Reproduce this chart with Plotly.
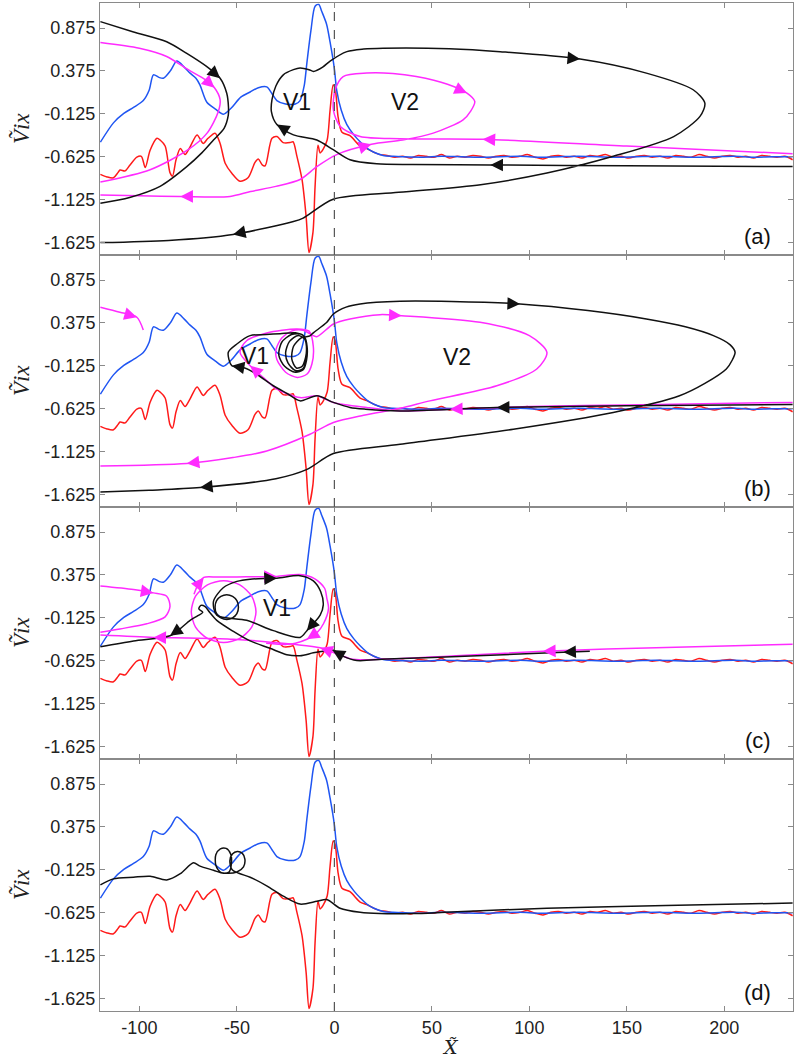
import math
import plotly.graph_objects as go
from plotly.subplots import make_subplots

# ---------------- axes / labels ----------------
x_ticks = [-100, -50, 0, 50, 100, 150, 200]
x_tick_text = ["-100", "-50", "0", "50", "100", "150", "200"]
y_ticks = [0.875, 0.375, -0.125, -0.625, -1.125, -1.625]
y_tick_text = ["0.875", "0.375", "-0.125", "-0.625", "-1.125", "-1.625"]
panel_tags = ["(a)", "(b)", "(c)", "(d)"]
X_RANGE = [-120.2, 235.2]
Y_RANGE = [-1.77, 1.167]

# ---------------- shared profiles (red, blue) ----------------
red_x = [-120, -116.6, -113.3, -111, -109.9, -107.3, -104.8, -101.3, -99, -97, -94.5, -91, -89.4,
         -86.8, -84.3, -83, -81.2, -79, -76.6, -74, -70.4, -67.3, -64.8, -61.2, -58.6, -56, -52.5,
         -48.4, -44.3, -40.7, -39, -37, -35.5, -32, -29.4, -26.3, -22.7, -21.2, -19.2, -16.6, -14.5,
         -13, -11, -9.9, -8.4, -7.3, -5.8, -3.7, -2.2, -0.6, 0.4, 1.9, 3.9, 8, 13.2, 16.6, 20.9, 23.4]
red_y = [-0.83, -0.86, -0.87, -0.81, -0.78, -0.79, -0.72, -0.63, -0.62, -0.75, -0.55, -0.41, -0.43,
         -0.5, -0.81, -0.85, -0.66, -0.53, -0.6, -0.51, -0.37, -0.47, -0.41, -0.35, -0.47, -0.7, -0.82,
         -0.91, -0.87, -0.69, -0.65, -0.72, -0.73, -0.41, -0.39, -0.46, -0.46, -0.45, -0.62, -0.89, -1.32,
         -1.74, -1.51, -0.97, -0.49, -0.58, -0.54, -0.43, -0.08, 0.21, 0.17, -0.16, -0.34, -0.38, -0.5,
         -0.53, -0.58, -0.6]
red_flat_x = [27, 31, 35, 39, 43, 47, 51, 55, 59, 63, 67, 71, 75, 79, 83, 87, 91, 95, 99, 103, 107,
              111, 115, 119, 123, 127, 131, 135, 139, 143, 147, 151, 155, 159, 163, 167, 171, 175, 179,
              183, 187, 191, 195, 199, 203, 207, 211, 215, 219, 223, 227, 231, 235]
red_flat_y = [-0.61, -0.63, -0.62, -0.64, -0.61, -0.62, -0.63, -0.60, -0.64, -0.62,
              -0.63, -0.61, -0.62, -0.64, -0.62, -0.61, -0.63, -0.62, -0.60, -0.63,
              -0.65, -0.62, -0.61, -0.63, -0.62, -0.64, -0.61, -0.62, -0.60, -0.63,
              -0.62, -0.64, -0.62, -0.61, -0.63, -0.62, -0.64, -0.61, -0.62, -0.63,
              -0.60, -0.62, -0.64, -0.62, -0.61, -0.63, -0.62, -0.64, -0.61, -0.62,
              -0.63, -0.62, -0.66]
blue_x = [-120, -113.3, -108, -103, -98, -95, -92.8, -90, -87.7, -84, -80.8, -77, -74, -71, -68.9,
          -65.4, -61, -56.9, -53, -48, -43.2, -39, -34.7, -32, -29.5, -25, -20, -17.6, -15.5, -14.1,
          -12, -9.9, -8, -6.5, -4, -2.2, 0, 1.2, 3.5, 6.4, 10, 13.2, 17, 20, 25, 30]
blue_y = [-0.455, -0.23, -0.12, -0.05, 0.03, 0.15, 0.33, 0.30, 0.29, 0.38, 0.49, 0.42, 0.35, 0.29, 0.21,
          0.01, -0.07, -0.13, -0.06, 0.07, 0.13, 0.18, 0.19, 0.11, 0.03, -0.01, -0.01, 0.03, 0.2, 0.47,
          0.85, 1.13, 1.15, 1.07, 0.92, 0.71, 0.4, 0.15, -0.08, -0.25, -0.37, -0.45, -0.53, -0.57, -0.61, -0.62]
blue_flat_x = [35, 45, 55, 65, 75, 85, 95, 105, 115, 125, 135, 145, 155, 165, 175, 185, 195, 205, 215, 225, 235]
blue_flat_y = [-0.625, -0.63, -0.62, -0.625, -0.63, -0.625, -0.62, -0.63, -0.625, -0.62, -0.625,
               -0.63, -0.625, -0.62, -0.625, -0.63, -0.625, -0.62, -0.63, -0.625, -0.625]

# ---------------- trajectories: (x, y[, arrow]) ; '>' arrow along travel, '<' against ----------------
# panel (a)
a_black_1 = [(-120, 0.95), (-103, 0.83), (-86, 0.716), (-75.7, 0.58), (-65.4, 0.425), (-58.6, 0.29, '>'),
             (-55.2, 0.115), (-54.3, -0.05), (-54.4, -0.14), (-56.5, -0.29), (-62, -0.43), (-68, -0.58),
             (-75.7, -0.74), (-89.4, -0.97), (-105, -1.1), (-120, -1.168)]
a_black_2 = [(235, -0.74), (150, -0.73), (80, -0.72, '>'), (40, -0.715), (21.7, -0.707), (8, -0.66),
             (-0.6, -0.543), (-9, -0.43), (-21, -0.37), (-29.5, -0.25, '>'), (-32.3, -0.1), (-32, 0.04),
             (-30, 0.2), (-26.2, 0.33), (-21, 0.39), (-17.6, 0.41), (-13, 0.39), (-10.7, 0.37), (-6, 0.42),
             (-2.2, 0.49), (6.4, 0.6), (15, 0.63), (25, 0.64), (59, 0.634), (85, 0.6), (126, 0.514, '>'),
             (160, 0.35), (184, 0.156), (190, 0), (187.5, -0.155), (174, -0.39), (143, -0.62), (109, -0.815),
             (75, -0.95), (33, -1.04), (-0.6, -1.12), (-16, -1.34), (-21, -1.38), (-52, -1.53, '>'),
             (-85, -1.6), (-120, -1.625)]
a_magenta_1 = [(-120, 0.707), (-100, 0.64), (-86, 0.544), (-75, 0.39), (-66, 0.27), (-61.5, 0.18, '>'),
               (-58.6, 0.04), (-59.5, -0.097), (-65.3, -0.35), (-75, -0.543), (-94.5, -0.776), (-120, -0.92)]
a_magenta_2 = [(235, -0.59), (150, -0.5), (76, -0.42, '>'), (33.7, -0.415), (13.2, -0.39), (2.9, -0.27),
               (-0.5, -0.08), (0.4, 0.156), (4.5, 0.31), (16.6, 0.35), (30, 0.345), (42, 0.31), (58, 0.22),
               (68, 0.117, '>'), (72, 0.02), (70, -0.09), (66, -0.194), (50.7, -0.35), (35, -0.43),
               (19, -0.48, '<'), (1.2, -0.6), (-9, -0.74), (-17.6, -0.89), (-30, -0.97), (-43, -1.03),
               (-53.5, -1.087), (-79, -1.087, '>'), (-100, -1.08), (-120, -1.07)]
a_labels = [("V1", -19.3, 0.017), ("V2", 36.3, 0.017)]

# panel (b)
b_black_1 = [(235, -0.575), (150, -0.59), (83.3, -0.61, '>'), (33.7, -0.65), (16, -0.63), (8, -0.61),
             (-0.5, -0.551), (-9, -0.474), (-17.6, -0.533), (-24, -0.45), (-31.3, -0.357), (-40, -0.22),
             (-46, -0.15), (-52.6, -0.124, '>'), (-54.4, 0.033), (-50, 0.13), (-43.2, 0.227), (-35, 0.24),
             (-27.8, 0.25), (-20, 0.26), (-15.5, 0.22), (-14, 0.1), (-14.3, -0.06), (-16, -0.17), (-20, -0.2),
             (-25.5, -0.13), (-28.5, 0.0), (-27, 0.15), (-22, 0.24), (-16.5, 0.24), (-14.3, 0.12),
             (-14.4, -0.04), (-16.2, -0.16), (-20, -0.18), (-23.8, -0.09), (-25, 0.03), (-23, 0.16),
             (-18.5, 0.23), (-15, 0.18), (-14.4, 0.02), (-16.5, -0.13), (-19.5, -0.15), (-21.8, -0.05),
             (-21, 0.1), (-17, 0.2), (-12.5, 0.225), (-10.8, 0.26), (-4, 0.38), (-0.5, 0.48), (6, 0.56),
             (13.2, 0.597), (33.7, 0.628), (60, 0.625), (95.2, 0.597, '>'), (130, 0.52), (160, 0.422),
             (180, 0.33), (194.4, 0.227), (203, 0.12), (205.5, 0.033), (204, -0.06), (201, -0.162),
             (190, -0.33), (177, -0.474), (143, -0.668), (91.8, -0.863), (33.7, -1.039), (-0.5, -1.147),
             (-14, -1.331), (-30, -1.44), (-68.9, -1.544, '>'), (-95, -1.575), (-120, -1.596)]
b_magenta_1 = [(-120, 0.558), (-110, 0.5), (-101.3, 0.442, '>'), (-98, 0.293)]
b_magenta_2 = [(235, -0.551), (150, -0.58), (100, -0.6), (59.3, -0.63, '>'), (33.7, -0.65), (16.6, -0.61),
               (-0.6, -0.551), (-9, -0.474), (-17.6, -0.495), (-29.5, -0.396), (-36, -0.27),
               (-43.2, -0.124, '>'), (-48.4, 0.033), (-45, 0.168), (-34.7, 0.258), (-19.3, 0.305),
               (-13, 0.28), (-10.8, 0.1), (-11.5, -0.1), (-14, -0.22), (-19, -0.26), (-25, -0.2),
               (-29.5, -0.05), (-30, 0.06), (-27, 0.2), (-22, 0.28), (-16, 0.29), (-12, 0.24), (-9, 0.215),
               (-0.5, 0.363), (8, 0.422), (23.4, 0.472), (34.5, 0.46, '>'), (74.7, 0.383), (100, 0.227),
               (109, 0.033), (103.8, -0.162), (83.3, -0.357), (49, -0.533), (33.7, -0.62), (15, -0.7),
               (-0.5, -0.785), (-12.5, -0.922), (-34.7, -1.117), (-52, -1.194), (-75.7, -1.264, '>'),
               (-120, -1.292)]
b_labels = [("V1", -40.7, -0.007), ("V2", 62.8, -0.026)]

# panel (c)
c_black_1 = [(131, -0.514), (117.4, -0.526, '>'), (70, -0.57), (26.9, -0.605), (11.5, -0.622), (4.6, -0.574),
             (-1, -0.5, '>'), (-5, -0.51), (-10.8, -0.533), (-17.6, -0.566), (-24.4, -0.554), (-33, -0.48),
             (-43.2, -0.394), (-52, -0.28), (-60.3, -0.154), (-64, -0.06), (-66.3, 0.007), (-68.5, 0.02),
             (-69.5, -0.02), (-67.5, -0.06), (-70, -0.1), (-74, -0.154), (-79, -0.25), (-84.3, -0.334, '>'),
             (-103, -0.394), (-120, -0.461)]
c_black_2 = [(-17.6, -0.353), (-31.3, -0.274), (-45, -0.153), (-60.3, -0.094), (-62, 0.067), (-57, 0.226),
             (-50, 0.3), (-43.2, 0.326), (-29.5, 0.338, '>'), (-17.6, 0.367), (-10.8, 0.307), (-7, 0.18),
             (-5.7, 0.026), (-7.3, -0.094), (-14.1, -0.274, '>'), (-17.6, -0.353)]
c_black_3 = [(-49.2, 0.0), (-50, 0.075), (-52.2, 0.125), (-55.2, 0.145), (-58.2, 0.125), (-60.4, 0.075),
             (-61.2, 0.0), (-60.4, -0.075), (-58.2, -0.125), (-55.2, -0.145), (-52.2, -0.125), (-50, -0.075),
             (-49.2, 0.0)]
c_magenta_1 = [(-120, 0.247), (-103, 0.206), (-92.8, 0.166, '>'), (-86, 0.127), (-84.3, 0.007),
               (-86.8, -0.113), (-96.2, -0.194), (-110, -0.254), (-120, -0.293)]
c_magenta_2 = [(235, -0.434), (170, -0.47), (107, -0.514, '>'), (60, -0.57), (14.9, -0.614), (8, -0.6),
               (2, -0.55), (-7.3, -0.473, '>'), (-21, -0.434), (-51.8, -0.374), (-75, -0.36),
               (-92.8, -0.353, '>'), (-120, -0.326)]
c_magenta_3 = [(-40.2, -0.053), (-42.4, 0.127), (-48.5, 0.259), (-56.8, 0.307), (-65.1, 0.259),
               (-71.2, 0.127), (-73.4, -0.053), (-71.2, -0.233), (-65.1, -0.365), (-56.8, -0.413),
               (-48.5, -0.365), (-42.4, -0.233), (-40.2, -0.053)]
c_magenta_4 = [(-72, 0.15), (-70, 0.26), (-67, 0.346, '>'), (-60, 0.35), (-50, 0.352), (-40, 0.355),
               (-29.5, 0.358, '>'), (-17.6, 0.379), (-10, 0.33), (-5, 0.22), (-3.9, 0.106), (-3, -0.014),
               (-5.6, -0.194), (-9, -0.3), (-14.1, -0.374, '>'), (-20, -0.42), (-24.4, -0.434), (-35, -0.42)]
c_labels = [("V1", -29.5, -0.014)]

# panel (d)
d_black_1 = [(-120, -0.299), (-113.3, -0.23), (-103, -0.211), (-94.5, -0.2), (-86, -0.243), (-79, -0.17),
             (-72.3, -0.042), (-68.9, -0.082), (-62, -0.13), (-57, -0.165), (-54, -0.15), (-52.8, -0.05),
             (-53.2, 0.06), (-55.5, 0.125), (-58.5, 0.12), (-60.8, 0.05), (-60.8, -0.07), (-58.5, -0.15),
             (-55, -0.165), (-50, -0.15), (-46.6, -0.09), (-45.9, 0.0), (-47.3, 0.07), (-49.8, 0.09),
             (-52.3, 0.06), (-53.6, -0.02), (-52.5, -0.12), (-49, -0.165), (-43.2, -0.211), (-34.7, -0.311),
             (-26.2, -0.432), (-17.6, -0.524), (-9, -0.492), (-3.9, -0.47), (2.9, -0.572), (13.2, -0.62),
             (23.4, -0.635), (40, -0.635), (60, -0.615), (109, -0.573), (170, -0.54), (235, -0.512)]
d_labels = []

# ---------------- styling ----------------
RED = "#ff1a1a"
BLUE = "#1f55f2"
MAG = "#ff2bff"
BLK = "#111111"
FRAME = "#8a8a8a"
TICKFONT = dict(family="Liberation Sans, Arial, sans-serif", size=18, color="#222222")

panels = [
    ([(a_magenta_1, MAG), (a_magenta_2, MAG), (a_black_1, BLK), (a_black_2, BLK)], a_labels),
    ([(b_magenta_1, MAG), (b_magenta_2, MAG), (b_black_1, BLK)], b_labels),
    ([(c_magenta_1, MAG), (c_magenta_2, MAG), (c_magenta_3, MAG), (c_magenta_4, MAG),
      (c_black_1, BLK), (c_black_2, BLK), (c_black_3, BLK)], c_labels),
    ([(d_black_1, BLK)], d_labels),
]

fig = make_subplots(rows=4, cols=1, shared_xaxes=True, vertical_spacing=0)

W, H = 794, 1061
ML, MR, MT, MB = 100, 1, 3, 50
plot_w = W - ML - MR
plot_h = H - MT - MB
px_per_x = plot_w / (X_RANGE[1] - X_RANGE[0])
px_per_y = (plot_h / 4) / (Y_RANGE[1] - Y_RANGE[0])

annotations = []
for r, (trajs, labels) in enumerate(panels, start=1):
    sfx = "" if r == 1 else str(r)
    fig.add_trace(go.Scatter(x=red_x + red_flat_x, y=red_y + red_flat_y, mode="lines",
                             line=dict(color=RED, width=1.5, shape="spline", smoothing=0.8),
                             showlegend=False, hoverinfo="skip"), row=r, col=1)
    fig.add_trace(go.Scatter(x=blue_x + blue_flat_x, y=blue_y + blue_flat_y, mode="lines",
                             line=dict(color=BLUE, width=1.5, shape="spline", smoothing=0.8),
                             showlegend=False, hoverinfo="skip"), row=r, col=1)
    for tr, color in trajs:
        xs = [p[0] for p in tr]
        ys = [p[1] for p in tr]
        fig.add_trace(go.Scatter(x=xs, y=ys, mode="lines",
                                 line=dict(color=color, width=1.5, shape="spline", smoothing=0.8),
                                 showlegend=False, hoverinfo="skip"), row=r, col=1)
        for i, p in enumerate(tr):
            if len(p) < 3:
                continue
            j = i - 1 if p[2] == '>' else i + 1
            x1, y1 = p[0], p[1]
            x0, y0 = tr[j][0], tr[j][1]
            dxp = (x1 - x0) * px_per_x
            dyp = (y1 - y0) * px_per_y
            n = math.hypot(dxp, dyp) or 1.0
            L = 6.0
            ax = x1 - (dxp / n) * L / px_per_x
            ay = y1 - (dyp / n) * L / px_per_y
            annotations.append(dict(x=x1, y=y1, ax=ax, ay=ay, xref="x" + sfx, yref="y" + sfx,
                                    axref="x" + sfx, ayref="y" + sfx, text="", showarrow=True,
                                    arrowhead=2, arrowsize=1.8, arrowwidth=1.4, arrowcolor=color))
    for txt, lx, ly in labels:
        annotations.append(dict(x=lx, y=ly, xref="x" + sfx, yref="y" + sfx, text=txt, showarrow=False,
                                font=dict(family="Liberation Sans, Arial, sans-serif", size=23, color="#111")))
    annotations.append(dict(x=0.949, y=0.075, xref="x" + sfx + " domain", yref="y" + sfx + " domain",
                            text=panel_tags[r - 1], showarrow=False, xanchor="center", yanchor="middle",
                            font=dict(family="Liberation Sans, Arial, sans-serif", size=22, color="#111")))
    annotations.append(dict(x=(21 - ML) / plot_w, y=0.5, xref="paper", yref="y" + sfx + " domain",
                            text="<i>Ṽix</i>", showarrow=False, textangle=-90,
                            xanchor="center", yanchor="middle",
                            font=dict(family="Liberation Serif, DejaVu Serif, serif", size=23, color="#222")))
    fig.update_xaxes(row=r, col=1, range=X_RANGE, tickvals=x_ticks, ticktext=x_tick_text,
                     showticklabels=(r == 4), ticks="inside", ticklen=5, tickcolor=FRAME,
                     showline=True, linecolor=FRAME, linewidth=1, mirror="ticks",
                     showgrid=False, zeroline=False, tickfont=TICKFONT)
    fig.update_yaxes(row=r, col=1, range=Y_RANGE, tickvals=y_ticks, ticktext=y_tick_text,
                     ticks="inside", ticklen=5, tickcolor=FRAME,
                     showline=True, linecolor=FRAME, linewidth=1, mirror="ticks",
                     showgrid=False, zeroline=False, tickfont=TICKFONT)

fig.add_vline(x=0, row="all", col=1, line=dict(color="#555555", width=1.2, dash="dash"))

annotations.append(dict(x=(451 - ML) / plot_w, y=-(1047 - (H - MB)) / plot_h, xref="paper", yref="paper",
                        text="<i>X̃</i>", showarrow=False, xanchor="center", yanchor="middle",
                        font=dict(family="DejaVu Serif, Liberation Serif, serif", size=19, color="#222")))

fig.update_layout(width=W, height=H, margin=dict(l=ML, r=MR, t=MT, b=MB),
                  plot_bgcolor="white", paper_bgcolor="white", annotations=annotations)

fig.write_html("out.html")
